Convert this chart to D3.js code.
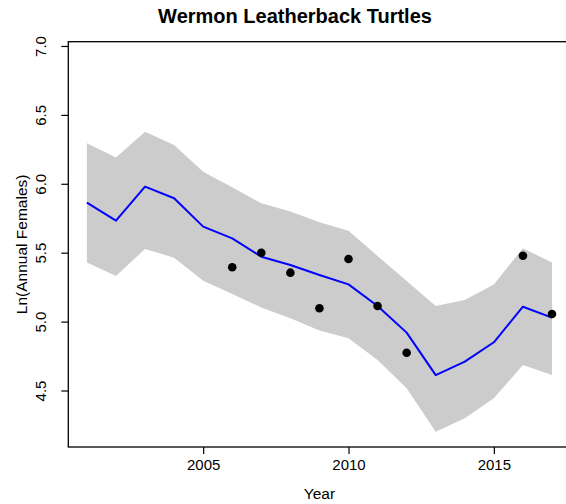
<!DOCTYPE html>
<html>
<head>
<meta charset="utf-8">
<script src="https://cdn.jsdelivr.net/npm/d3@7"></script>
<style>
  html, body { margin: 0; padding: 0; background: #fff; }
  svg { display: block; }
  text { font-family: "Liberation Sans", Arial, sans-serif; fill: #000; }
</style>
</head>
<body>
<svg id="chart" width="566" height="504"></svg>
<script>
// ---- data ----
const years = [2001,2002,2003,2004,2005,2006,2007,2008,2009,2010,2011,2012,2013,2014,2015,2016,2017];
const fitted = [5.863,5.732,5.979,5.895,5.689,5.604,5.471,5.411,5.338,5.270,5.113,4.920,4.612,4.709,4.850,5.108,5.029];
const upper  = [6.294,6.190,6.378,6.282,6.088,5.975,5.858,5.798,5.720,5.660,5.476,5.295,5.113,5.157,5.270,5.532,5.428];
const lower  = [5.428,5.331,5.527,5.464,5.297,5.200,5.103,5.024,4.935,4.879,4.721,4.516,4.201,4.298,4.443,4.685,4.612];
const obsYears = [2006,2007,2008,2009,2010,2011,2012,2016,2017];
const obsValues = [5.394,5.500,5.355,5.097,5.454,5.113,4.774,5.478,5.055];
const xTicks = [2005,2010,2015];
const yTicks = [4.5,5.0,5.5,6.0,6.5,7.0];
const titleText = "Wermon Leatherback Turtles";
const xLabel = "Year";
const yLabel = "Ln(Annual Females)";

// ---- layout ----
const svg = d3.select("#chart");
const pLeft = 68.3, pRight = 570.6, pTop = 41.7, pBottom = 447;
const x = d3.scaleLinear().domain([2000.36, 2017.64]).range([pLeft, pRight]);
const y = d3.scaleLinear().domain([4.09, 7.031]).range([pBottom, pTop]);

// band
const band = years.map((yr, i) => ({yr, lo: lower[i], hi: upper[i]}));
svg.append("path")
  .datum(band)
  .attr("fill", "#cccccc")
  .attr("stroke", "none")
  .attr("d", d3.area().x(d => x(d.yr)).y0(d => y(d.lo)).y1(d => y(d.hi)));

// fitted line
svg.append("path")
  .datum(years.map((yr, i) => ({yr, v: fitted[i]})))
  .attr("fill", "none")
  .attr("stroke", "#0000ff")
  .attr("stroke-width", 2)
  .attr("stroke-linejoin", "round")
  .attr("d", d3.line().x(d => x(d.yr)).y(d => y(d.v)));

// observed points
svg.append("g").selectAll("circle")
  .data(obsYears.map((yr, i) => ({yr, v: obsValues[i]})))
  .join("circle")
  .attr("cx", d => x(d.yr))
  .attr("cy", d => y(d.v))
  .attr("r", 4.3)
  .attr("fill", "#000");

// box
svg.append("rect")
  .attr("x", pLeft).attr("y", pTop)
  .attr("width", pRight - pLeft).attr("height", pBottom - pTop)
  .attr("fill", "none").attr("stroke", "#000").attr("stroke-width", 1.3);

// x axis
const xAxis = d3.axisBottom(x).tickValues(xTicks).tickFormat(d3.format("d")).tickSize(7).tickSizeOuter(0).tickPadding(5);
const gx = svg.append("g").attr("transform", `translate(0,${pBottom})`).call(xAxis);
gx.select(".domain").remove();
gx.selectAll("line").attr("stroke", "#000").attr("stroke-width", 1.2);
gx.selectAll("text").style("font-size", "15px").attr("fill", "#000").attr("dy", "0.71em");

// y axis
const yAxis = d3.axisLeft(y).tickValues(yTicks).tickFormat(d3.format(".1f")).tickSize(7).tickSizeOuter(0);
const gy = svg.append("g").attr("transform", `translate(${pLeft},0)`).call(yAxis);
gy.select(".domain").remove();
gy.selectAll("line").attr("stroke", "#000").attr("stroke-width", 1.2);
gy.selectAll("text")
  .style("font-size", "15px")
  .attr("fill", "#000")
  .attr("x", null).attr("dy", null)
  .attr("text-anchor", "middle")
  .attr("transform", "translate(-22,0) rotate(-90)");

// title
svg.append("text")
  .attr("x", 295).attr("y", 23)
  .attr("text-anchor", "middle")
  .style("font-size", "20px").style("font-weight", "bold")
  .text(titleText);

// x label
svg.append("text")
  .attr("x", (pLeft + pRight) / 2).attr("y", 499)
  .attr("text-anchor", "middle")
  .style("font-size", "15.5px")
  .text(xLabel);

// y label
svg.append("text")
  .attr("transform", `translate(27,${(pTop + pBottom) / 2}) rotate(-90)`)
  .attr("text-anchor", "middle")
  .style("font-size", "15.5px")
  .text(yLabel);
</script>
</body>
</html>
